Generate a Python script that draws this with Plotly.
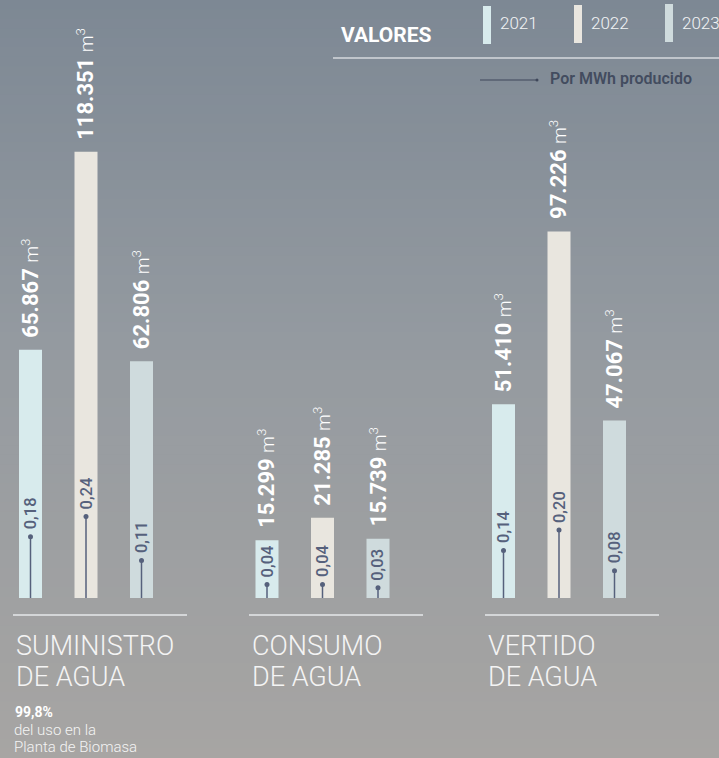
import plotly.graph_objects as go

# data
groups = [["SUMINISTRO", "DE AGUA"], ["CONSUMO", "DE AGUA"], ["VERTIDO", "DE AGUA"]]
years = ["2021", "2022", "2023"]
year_colors = ["#d8ebed", "#e9e6df", "#cfdbdd"]
suministro = [65867, 118351, 62806]
consumo = [15299, 21285, 15739]
vertido = [51410, 97226, 47067]
suministro_mwh = [0.18, 0.24, 0.11]
consumo_mwh = [0.04, 0.04, 0.03]
vertido_mwh = [0.14, 0.20, 0.08]
note_pct = "99,8%"
note_lines = ["del uso en la", "Planta de Biomasa"]
legend_title = "VALORES"
mwh_label = "Por MWh producido"

values = [suministro, consumo, vertido]
per_mwh = [suministro_mwh, consumo_mwh, vertido_mwh]

W, H = 719, 758
FONT = "Roboto"
MWH_COLOR = "#56617c"


def py(y):
    return 1 - y / H


def xc(g, k):
    return 30.5 + 236.5 * g + 55.5 * k


def fmt_int(v):
    return f"{v:,}".replace(",", ".")


def fmt_dec(v):
    return f"{v:.2f}".replace(".", ",")


fig = go.Figure()

# background gradient stripes
stops = [(0.0, (125, 136, 148)), (0.45, (148, 154, 160)), (1.0, (167, 165, 163))]
n = 80
for i in range(n):
    t = (i + 0.5) / n
    for j in range(len(stops) - 1):
        if stops[j][0] <= t <= stops[j + 1][0]:
            a, ca = stops[j]
            b, cb = stops[j + 1]
            f = (t - a) / (b - a)
            c = tuple(round(ca[m] + (cb[m] - ca[m]) * f) for m in range(3))
            break
    fig.add_shape(type="rect", xref="paper", yref="paper", x0=0, x1=1,
                  y0=1 - (i + 1) / n - 0.001, y1=1 - i / n,
                  fillcolor=f"rgb{c}", line_width=0, layer="below")

# bars per year
for k, yr in enumerate(years):
    fig.add_trace(go.Bar(
        x=[xc(g, k) for g in range(len(groups))],
        y=[values[g][k] for g in range(len(groups))],
        width=23, marker_color=year_colors[k], marker_line_width=0,
        name=yr, hoverinfo="skip"))

# per MWh stems
lx, ly, dx, dy = [], [], [], []
for g in range(len(groups)):
    for k in range(len(years)):
        x = xc(g, k)
        lx += [x, x, None]
        ly += [0, per_mwh[g][k], None]
        dx.append(x)
        dy.append(per_mwh[g][k])
fig.add_trace(go.Scatter(x=lx, y=ly, yaxis="y2", mode="lines",
                         line=dict(color=MWH_COLOR, width=1.5), hoverinfo="skip"))
fig.add_trace(go.Scatter(x=dx, y=dy, yaxis="y2", mode="markers",
                         marker=dict(color=MWH_COLOR, size=5), hoverinfo="skip"))

for g in range(len(groups)):
    for k in range(len(years)):
        x = xc(g, k)
        fig.add_annotation(
            x=x, y=values[g][k], xref="x", yref="y", textangle=-90,
            xanchor="center", yanchor="bottom", yshift=10, showarrow=False,
            text=f"<b>{fmt_int(values[g][k])}</b> <span style='font-size:19px'>m<sup>3</sup></span>",
            font=dict(family=FONT, size=22, color="#ffffff", weight=300))
        fig.add_annotation(
            x=x, y=per_mwh[g][k], xref="x", yref="y2", textangle=-90,
            xanchor="center", yanchor="bottom", yshift=5, showarrow=False,
            text=fmt_dec(per_mwh[g][k]),
            font=dict(family=FONT, size=16.5, color=MWH_COLOR, weight=500))

    left = 13 + 236 * g
    fig.add_shape(type="line", xref="x", yref="paper", x0=left, x1=left + 174,
                  y0=py(615), y1=py(615), line=dict(color="#e6e8ea", width=1.5))
    for i, line in enumerate(groups[g]):
        fig.add_annotation(x=left + 1, y=py(646 + 31 * i), xref="x", yref="paper",
                           xanchor="left", yanchor="middle", showarrow=False, text=line,
                           font=dict(family=FONT, size=27, color="#f4f4f4", weight=300))

# note under first group
fig.add_annotation(x=13, y=py(712), xref="x", yref="paper", xanchor="left",
                   yanchor="middle", showarrow=False, text=f"<b>{note_pct}</b>",
                   font=dict(family=FONT, size=14, color="#ffffff"))
for i, line in enumerate(note_lines):
    fig.add_annotation(x=12, y=py(730 + 17 * i), xref="x", yref="paper", xanchor="left",
                       yanchor="middle", showarrow=False, text=line,
                       font=dict(family=FONT, size=15, color="#f4f4f4", weight=300))

# legend header
fig.add_annotation(x=339, y=py(35), xref="x", yref="paper", xanchor="left",
                   yanchor="middle", showarrow=False, text=f"<b>{legend_title}</b>",
                   font=dict(family=FONT, size=21, color="#ffffff"))
for k, yr in enumerate(years):
    sx = 483 + 91 * k
    fig.add_shape(type="rect", xref="x", yref="paper", x0=sx, x1=sx + 8,
                  y0=py(44 - k), y1=py(6 - k), fillcolor=year_colors[k], line_width=0)
    fig.add_annotation(x=sx + 15, y=py(23), xref="x", yref="paper", xanchor="left",
                       yanchor="middle", showarrow=False, text=yr,
                       font=dict(family=FONT, size=17, color="#f2f4f5", weight=300))
fig.add_shape(type="line", xref="x", yref="paper", x0=333, x1=W, y0=py(58), y1=py(58),
              line=dict(color="#d6d9dd", width=1.5))
fig.add_shape(type="line", xref="x", yref="paper", x0=480, x1=537, y0=py(80), y1=py(80),
              line=dict(color="#3f475a", width=1))
fig.add_shape(type="circle", xref="x", yref="paper", x0=535.5, x1=538.5,
              y0=py(81.5), y1=py(78.5), fillcolor="#3f475a", line_width=0)
fig.add_annotation(x=548, y=py(79), xref="x", yref="paper", xanchor="left",
                   yanchor="middle", showarrow=False, text=mwh_label,
                   font=dict(family=FONT, size=16, color="#434c5f", weight=600))

fig.update_layout(
    width=W, height=H, margin=dict(l=0, r=0, t=0, b=0),
    paper_bgcolor="#979ca1", plot_bgcolor="rgba(0,0,0,0)",
    showlegend=False, barmode="overlay",
    xaxis=dict(range=[0, W], domain=[0, 1], visible=False, fixedrange=True),
    yaxis=dict(range=[0, 158600], domain=[(H - 598) / H, 1], visible=False, fixedrange=True),
    yaxis2=dict(range=[0, 1.759], overlaying="y", visible=False, fixedrange=True),
)

fig.write_html("out.html", post_script="document.body.style.margin='0';",
               config={"displayModeBar": False})
